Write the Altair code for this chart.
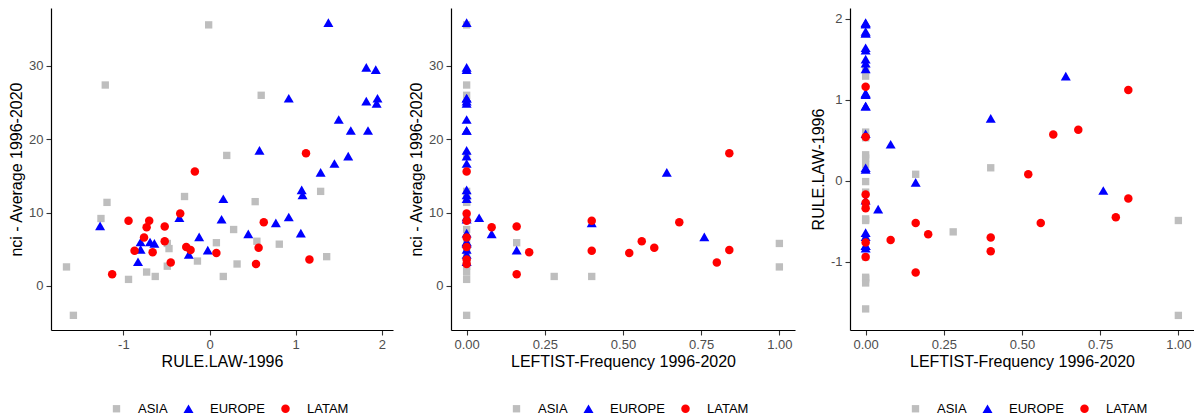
import altair as alt
import pandas as pd

nan = float("nan")

# ---- data (one entry per country) ----
asia_rule_law = [-0.01, -1.21, 0.60, 0.20, 1.29, -1.19, -0.29, 0.53, -1.26, 0.28,
                 -0.49, -0.47, 0.08, 0.55, 0.81, 1.36, 0.32, -0.14, -0.49, -0.73,
                 -0.63, -0.94, 0.16, -1.66, -1.58]
asia_nci = [35.6, 27.4, 26.0, 17.8, 12.9, 11.4, 12.2, 11.5, 9.2, 7.7,
            5.8, 5.1, 5.9, 6.1, 5.7, 4.0, 3.0, 3.4, 2.7, 1.9,
            1.3, 0.9, 1.3, 2.6, -4.0]
asia_leftist = [0, 0, 0, 0, 0, 0, 0, 0, 0, 0,
                1.00, 0, 0.16, 0, nan, 0, 0, 0, 0, 0,
                0.28, 0, 0.40, 1.00, 0]

europe_rule_law = [1.38, 1.82, 1.93, 0.92, 1.82, 1.95, 1.94, 1.50, 1.64, 1.84,
                   0.58, 1.61, 1.45, 1.29, 1.07, 1.08, 0.16, -1.27, -0.35, 0.14,
                   0.77, 0.92, 1.06, 0.45, -0.80, -0.69, -0.64, -0.80, -0.12, -0.24,
                   -0.02, -0.83]
europe_nci = [35.9, 29.8, 29.5, 25.6, 25.2, 25.6, 24.9, 22.7, 21.2, 21.2,
              18.5, 17.7, 16.7, 15.5, 13.1, 12.4, 11.9, 8.2, 9.3, 9.1,
              8.6, 9.4, 7.2, 7.1, 6.0, 6.0, 5.8, 5.0, 6.7, 4.3,
              4.9, 3.3]
europe_leftist = [0, 0, 0, 0, 0, 0, 0, 0, 0, 0,
                  0, 0, 0, 0.64, 0, 0, 0, nan, 0.04, 0,
                  0.40, 0, 0, 0.08, 0, 0, 0, 0, 0.76, 0,
                  0.16, 0]

latam_rule_law = [1.12, -0.17, -0.94, -0.70, -0.73, -0.52, -0.34, 0.63, -0.76, -0.52,
                  -0.87, -0.66, -0.27, -0.22, 0.08, 0.57, 1.16, 0.54, -0.45, -1.13]
latam_nci = [18.1, 15.6, 8.9, 8.9, 8.0, 8.1, 9.9, 8.7, 6.6, 6.1,
             4.8, 4.6, 5.3, 4.9, 4.5, 5.2, 3.6, 3.0, 3.2, 1.6]
latam_leftist = [0.84, 0, 0, 0.40, 0.08, 0.16, 0, 0.68, 0, 0.56,
                 0.40, 0.20, 0, 0.84, 0.52, 0.60, 0, 0, 0.80, 0.16]

regions = ["ASIA", "EUROPE", "LATAM"]
region_colors = ["#BEBEBE", "#0000FF", "#FF0000"]
region_shapes = ["square", "triangle-up", "circle"]
region_sizes = [54, 100, 72]

df = pd.DataFrame({
    "region": ["ASIA"] * len(asia_nci) + ["EUROPE"] * len(europe_nci) + ["LATAM"] * len(latam_nci),
    "rule_law": asia_rule_law + europe_rule_law + latam_rule_law,
    "nci": asia_nci + europe_nci + latam_nci,
    "leftist": asia_leftist + europe_leftist + latam_leftist,
})

FONT = "Liberation Sans"
H = 322


def panel(xf, xtitle, xdom, xvals, xfmt, yf, ytitle, ydom, yvals, w):
    legend = alt.Legend(
        title=None, orient="none", direction="horizontal",
        legendX=59, legendY=394, labelFontSize=13, labelColor="black",
        labelFont=FONT, labelOffset=15, columnPadding=14, padding=0,
        symbolStrokeWidth=0, symbolOpacity=1,
    )
    return alt.Chart(df).mark_point(filled=True, opacity=1, strokeWidth=0).encode(
        x=alt.X(f"{xf}:Q", title=xtitle,
                scale=alt.Scale(domain=xdom, nice=False, zero=False),
                axis=alt.Axis(values=xvals, format=xfmt,
                              labelExpr="replace(datum.label, '\u2212', '-')")),
        y=alt.Y(f"{yf}:Q", title=ytitle,
                scale=alt.Scale(domain=ydom, nice=False, zero=False),
                axis=alt.Axis(values=yvals, format="d",
                              labelExpr="replace(datum.label, '\u2212', '-')")),
        color=alt.Color("region:N", scale=alt.Scale(domain=regions, range=region_colors), legend=legend),
        shape=alt.Shape("region:N", scale=alt.Scale(domain=regions, range=region_shapes), legend=legend),
        size=alt.Size("region:N", scale=alt.Scale(type="ordinal", domain=regions, range=region_sizes),
                      legend=legend),
    ).properties(width=w, height=H)


p1 = panel("rule_law", "RULE.LAW-1996", [-1.84, 2.13], [-1, 0, 1, 2], "d",
           "nci", "nci - Average 1996-2020", [-6.0, 37.9], [0, 10, 20, 30], 342)
p2 = panel("leftist", "LEFTIST-Frequency 1996-2020", [-0.05, 1.05], [0, 0.25, 0.5, 0.75, 1.0], ".2f",
           "nci", "nci - Average 1996-2020", [-6.0, 37.9], [0, 10, 20, 30], 344)
p3 = panel("leftist", "LEFTIST-Frequency 1996-2020", [-0.05, 1.05], [0, 0.25, 0.5, 0.75, 1.0], ".2f",
           "rule_law", "RULE.LAW-1996", [-1.84, 2.13], [-1, 0, 1, 2], 344)

chart = alt.hconcat(p1, p2, p3, spacing=15).resolve_scale(
    color="independent", shape="independent", size="independent"
).resolve_legend(
    color="independent", shape="independent", size="independent"
).properties(padding=0).configure_view(stroke=None).configure_axis(
    grid=False, domainColor="black", domainWidth=1.2, tickColor="#333333",
    tickSize=5, tickWidth=1.1, labelPadding=3, labelFontSize=13, labelColor="#4D4D4D",
    labelFont=FONT, titleFont=FONT, titleFontSize=16, titleFontWeight="normal",
    titleColor="black",
).configure_axisX(titlePadding=2).configure_axisY(titlePadding=4)

chart.save("out.html", embed_options={"renderer": "svg", "actions": False})
